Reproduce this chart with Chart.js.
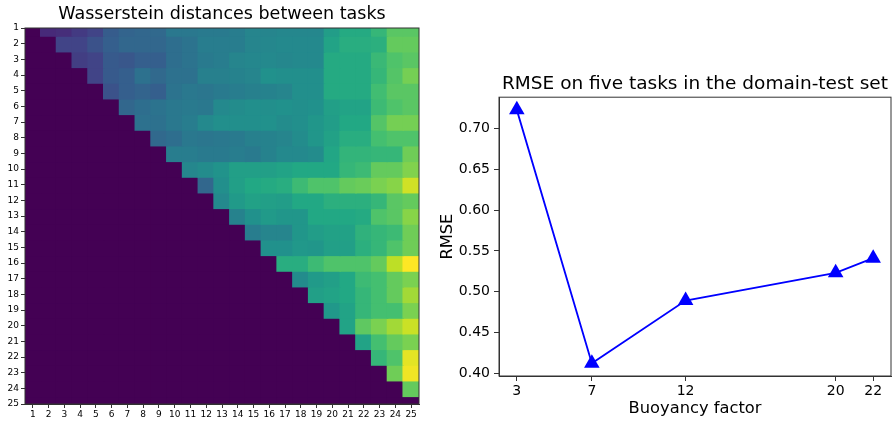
<!DOCTYPE html>
<html>
<head>
<meta charset="utf-8">
<script src="https://cdn.jsdelivr.net/npm/chart.js@4.4.1/dist/chart.umd.min.js"></script>
<style>
  html, body { margin: 0; padding: 0; background: #fff; width: 896px; height: 422px; overflow: hidden; }
  #heat { position: absolute; left: 0; top: 0; }
  #rmse { position: absolute; left: 430px; top: 0; }
</style>
</head>
<body>
<canvas id="heat" width="440" height="422"></canvas>
<canvas id="rmse" width="470" height="422"></canvas>
<script>
const tasks = ["1","2","3","4","5","6","7","8","9","10","11","12","13","14","15","16","17","18","19","20","21","22","23","24","25"];

// upper triangle of the distance matrix, row i holds columns i+1..25
// (diagonal and lower triangle are 0)
const upperRows = [
  [.12,.13,.17,.20,.29,.32,.33,.34,.40,.40,.41,.41,.42,.45,.45,.46,.46,.46,.55,.61,.61,.66,.74,.74],
  [.20,.20,.25,.30,.33,.33,.33,.36,.38,.42,.42,.42,.45,.46,.47,.47,.47,.58,.62,.62,.63,.76,.76],
  [.18,.20,.28,.27,.30,.30,.36,.38,.41,.42,.45,.46,.47,.46,.47,.47,.61,.61,.61,.67,.72,.74],
  [.20,.28,.30,.37,.34,.37,.37,.43,.43,.44,.45,.50,.49,.49,.49,.61,.61,.61,.66,.73,.79],
  [.25,.30,.32,.30,.38,.40,.39,.41,.42,.43,.44,.45,.49,.49,.61,.61,.61,.69,.74,.74],
  [.33,.36,.38,.40,.41,.40,.47,.48,.49,.49,.50,.49,.50,.56,.58,.58,.68,.72,.74],
  [.37,.37,.40,.42,.47,.49,.49,.49,.50,.48,.49,.52,.55,.60,.60,.73,.79,.79],
  [.34,.36,.40,.39,.40,.41,.43,.44,.45,.48,.52,.57,.62,.62,.70,.72,.72],
  [.42,.42,.41,.41,.42,.41,.44,.47,.47,.48,.59,.65,.65,.66,.66,.78],
  [.46,.48,.51,.56,.56,.56,.58,.60,.60,.60,.66,.68,.76,.76,.81],
  [.33,.49,.56,.60,.61,.62,.68,.72,.72,.76,.77,.80,.82,.93],
  [.47,.54,.57,.56,.55,.60,.60,.63,.63,.63,.66,.74,.76],
  [.44,.50,.54,.52,.52,.60,.60,.60,.61,.72,.74,.82],
  [.42,.45,.45,.52,.55,.57,.57,.64,.66,.68,.78],
  [.50,.50,.53,.52,.56,.56,.63,.66,.72,.78],
  [.62,.62,.68,.72,.72,.72,.76,.90,1.0],
  [.48,.54,.56,.60,.68,.70,.76,.80],
  [.56,.58,.60,.66,.70,.76,.86],
  [.53,.58,.66,.70,.70,.80],
  [.58,.75,.80,.86,.92],
  [.58,.70,.76,.80],
  [.66,.72,.96],
  [.78,.98],
  [.76],
  []
];

const buoyancy = [3, 7, 12, 20, 22];
const rmse = [0.723, 0.412, 0.489, 0.523, 0.541];
const rmseTicks = [0.40, 0.45, 0.50, 0.55, 0.60, 0.65, 0.70];

const FONT = "'DejaVu Sans', sans-serif";
const AXIS = "#333";

// viridis colour stops
const viridis = ["#440154","#482475","#414487","#355f8d","#2a788e","#21918c","#22a884","#44bf70","#7ad151","#bddf26","#fde725"];

function hexToRgb(h) {
  return [parseInt(h.slice(1, 3), 16), parseInt(h.slice(3, 5), 16), parseInt(h.slice(5, 7), 16)];
}

function viridisColor(t) {
  t = Math.max(0, Math.min(1, t));
  const pos = t * (viridis.length - 1);
  const i = Math.min(Math.floor(pos), viridis.length - 2);
  const f = pos - i;
  const a = hexToRgb(viridis[i]), b = hexToRgb(viridis[i + 1]);
  const c = a.map((v, k) => Math.round(v + (b[k] - v) * f));
  return "rgb(" + c.join(",") + ")";
}

const matrix = tasks.map((_, r) => tasks.map((_, c) => (c > r ? upperRows[r][c - r - 1] : 0)));
const vmax = Math.max(...matrix.flat());

// box around the plot area (matplotlib spines)
const framePlugin = {
  id: "frame",
  afterDraw(chart) {
    const { ctx, chartArea: a } = chart;
    ctx.save();
    ctx.strokeStyle = AXIS;
    ctx.lineWidth = 1;
    ctx.strokeRect(a.left, a.top, a.right - a.left, a.bottom - a.top);
    ctx.restore();
  }
};

// one floating-bar dataset per matrix row, cells overlap a little so no seams show
const heatSets = matrix.map((row, r) => ({
  data: row.map(() => [r + 1 - 0.56, r + 1 + 0.56]),
  backgroundColor: row.map(v => viridisColor(v / vmax)),
  borderWidth: 0,
  barPercentage: 1.1,
  categoryPercentage: 1,
  grouped: false
}));

new Chart(document.getElementById("heat"), {
  type: "bar",
  data: { labels: tasks, datasets: heatSets },
  options: {
    responsive: false,
    animation: false,
    layout: { padding: { left: 0, right: 21, top: 0, bottom: 0 } },
    plugins: {
      legend: { display: false },
      tooltip: { enabled: false },
      title: {
        display: true,
        fullSize: false,
        text: "Wasserstein distances between tasks",
        color: "#000",
        font: { family: FONT, size: 17.5, weight: "normal" },
        padding: { top: 4, bottom: 3 }
      }
    },
    scales: {
      x: {
        type: "category",
        offset: true,
        grid: { offset: false, drawOnChartArea: false, tickLength: 4, color: AXIS },
        border: { display: true, color: AXIS },
        ticks: { color: "#000", font: { family: FONT, size: 9 }, autoSkip: false, maxRotation: 0, padding: 1 },
        afterFit(s) { s.height = 18; }
      },
      y: {
        type: "linear",
        reverse: true,
        min: 1,
        max: 25,
        grid: { drawOnChartArea: false, tickLength: 4, color: AXIS },
        border: { display: true, color: AXIS },
        ticks: { color: "#000", font: { family: FONT, size: 9 }, stepSize: 1, autoSkip: false, padding: 2 },
        afterFit(s) { s.width = 25; }
      }
    }
  },
  plugins: [framePlugin]
});

const pad = (Math.max(...rmse) - Math.min(...rmse)) * 0.05;

new Chart(document.getElementById("rmse"), {
  type: "line",
  data: {
    datasets: [{
      data: buoyancy.map((b, i) => ({ x: b, y: rmse[i] })),
      borderColor: "#0000ff",
      backgroundColor: "#0000ff",
      borderWidth: 1.8,
      pointStyle: "triangle",
      pointRadius: 9,
      pointBorderWidth: 0,
      tension: 0
    }]
  },
  options: {
    responsive: false,
    animation: false,
    layout: { padding: 0 },
    plugins: {
      legend: { display: false },
      tooltip: { enabled: false },
      title: {
        display: true,
        fullSize: false,
        text: "RMSE on five tasks in the domain-test set",
        color: "#000",
        font: { family: FONT, size: 18.5, weight: "normal" },
        padding: { top: 73, bottom: 2 }
      }
    },
    scales: {
      x: {
        type: "linear",
        min: 2.05,
        max: 22.95,
        afterBuildTicks(s) { s.ticks = buoyancy.map(v => ({ value: v })); },
        grid: { drawOnChartArea: false, tickLength: 5, color: AXIS },
        border: { display: true, color: AXIS },
        ticks: { color: "#000", font: { family: FONT, size: 14 }, padding: 2, maxRotation: 0 },
        title: {
          display: true,
          text: "Buoyancy factor",
          color: "#000",
          font: { family: FONT, size: 16.3 },
          padding: { top: 0, bottom: 3 }
        },
        afterFit(s) { s.height = 46; }
      },
      y: {
        type: "linear",
        min: Math.min(...rmse) - pad,
        max: Math.max(...rmse) + pad,
        afterBuildTicks(s) { s.ticks = rmseTicks.map(v => ({ value: v })); },
        grid: { drawOnChartArea: false, tickLength: 5, color: AXIS },
        border: { display: true, color: AXIS },
        ticks: { color: "#000", font: { family: FONT, size: 14 }, padding: 4, callback: v => v.toFixed(2) },
        title: {
          display: true,
          text: "RMSE",
          color: "#000",
          font: { family: FONT, size: 16.3 },
          padding: { top: 8, bottom: 0 }
        },
        afterFit(s) { s.width = 69; }
      }
    }
  },
  plugins: [framePlugin]
});
</script>
</body>
</html>
